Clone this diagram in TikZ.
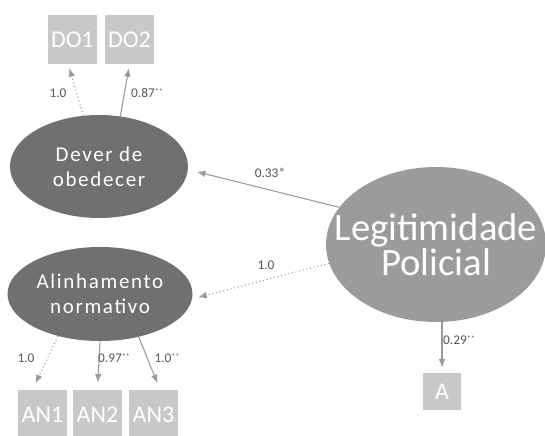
\documentclass[tikz,border=0pt]{standalone}
\usepackage{fontspec}
\setmainfont{Carlito}
\newfontfamily\spacedfont[LetterSpace=8]{Carlito}
\usetikzlibrary{arrows.meta, positioning, shapes.geometric}
\definecolor{LatentDark}{HTML}{707070}
\definecolor{LatentMid}{HTML}{9B9B9B}
\definecolor{IndFill}{HTML}{C8C8C8}
\definecolor{PathInk}{HTML}{9A9A9A}
\definecolor{LabelInk}{HTML}{555555}
\newcommand{\sigstars}{\raisebox{0.5ex}{\fontsize{6}{6}\selectfont **}}

\begin{document}
\begin{tikzpicture}[
    x=0.75pt, y=-0.75pt,
    font=\fontsize{10}{11}\selectfont,
    latent/.style={
      ellipse,
      fill=LatentDark,
      text=white,
      align=center,
      inner sep=0pt,
      font=\spacedfont\fontsize{15.75}{19}\selectfont,
    },
    indicator/.style={
      rectangle,
      fill=IndFill,
      text=white,
      inner sep=0pt,
      minimum width=49*0.75pt,
      minimum height=49*0.75pt,
      font=\fontsize{18}{20}\selectfont,
    },
    load/.style={
      draw=PathInk,
      line width=0.8pt,
      -{Latex[length=6.5pt,width=5pt]},
    },
    fixed/.style={load, dotted},
    coef/.style={text=LabelInk, inner sep=1pt},
  ]
    \useasboundingbox (0,0) rectangle (545,435);
    % indicators
    \node[indicator] (do1) at (72.5,39.5) {DO1};
    \node[indicator] (do2) at (129.5,39.5) {DO2};
    \node[indicator] (an1) at (42.5,414.5) {AN1};
    \node[indicator] (an2) at (97.5,414.5) {AN2};
    \node[indicator] (an3) at (153.5,414.5) {AN3};
    \node[indicator, minimum width=38*0.75pt, minimum height=37*0.75pt] (a) at (442,391.5) {A};
    % latent factors
    \node[latent, minimum width=178*0.75pt, minimum height=103*0.75pt] (dever) at (99,166.5) {Dever de\\obedecer};
    \node[latent, minimum width=185*0.75pt, minimum height=94*0.75pt] (alinh) at (100,294) {Alinhamento\\normativo};
    \node[latent, fill=LatentMid, font=\fontsize{29}{26.5}\selectfont,
      inner xsep=-19pt, inner ysep=-7pt,
      minimum width=220*0.75pt, minimum height=155*0.75pt] (legit) at (436,244.5) {Legitimidade\\Policial};
    % paths
    \draw[fixed, shorten >=3pt] (dever.107) -- (do1.-100);
    \draw[load, shorten >=3pt] (dever.67) -- (do2.south);
    \draw[load, shorten >=6.75pt] (legit.159) -- (dever.-2);
    \draw[fixed, shorten >=4.5pt] (legit.190) -- (alinh.-3);
    \draw[fixed, shorten >=5.25pt] (alinh.225) -- (an1.112);
    \draw[load, shorten >=5.25pt] (alinh.270) -- (an2.north);
    \draw[load, shorten >=5.25pt] (alinh.312) -- (an3.75);
    \draw[load, shorten >=3.75pt] (a.north |- legit.south) -- (a.north);
    % coefficients
    \node[coef] (c-do1) at (58,93) {1.0};
    \node[coef] (c-do2) at (147,93) {0.87\sigstars};
    \node[coef] (c-dev) at (270,173) {0.33*};
    \node[coef] (c-aln) at (266,265) {1.0};
    \node[coef] (c-an1) at (26,358) {1.0};
    \node[coef] (c-an2) at (114,358) {0.97\sigstars};
    \node[coef] (c-an3) at (167,358) {1.0\sigstars};
    \node[coef] (c-a) at (459,340) {0.29\sigstars};
  \end{tikzpicture}
\end{document}
